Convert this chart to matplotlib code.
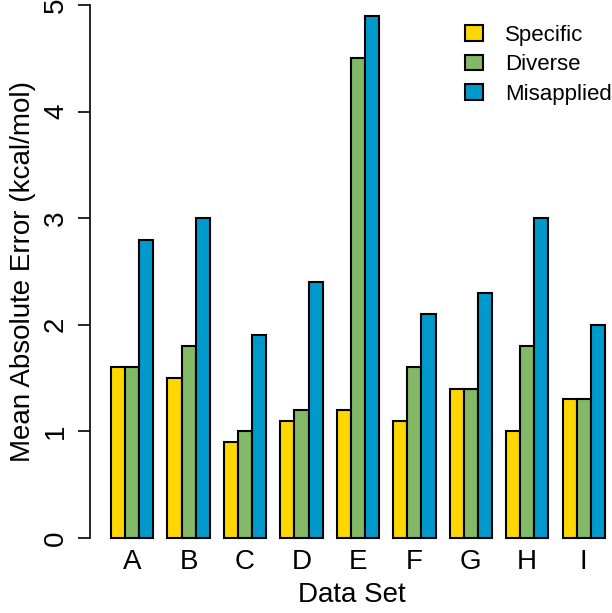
import numpy as np
import matplotlib.pyplot as plt

plt.rcParams['font.family'] = ['Liberation Sans', 'DejaVu Sans']

datasets = ['A', 'B', 'C', 'D', 'E', 'F', 'G', 'H', 'I']
specific = [1.6, 1.5, 0.9, 1.1, 1.2, 1.1, 1.4, 1.0, 1.3]
diverse = [1.6, 1.8, 1.0, 1.2, 4.5, 1.6, 1.4, 1.8, 1.3]
misapplied = [2.8, 3.0, 1.9, 2.4, 4.9, 2.1, 2.3, 3.0, 2.0]

series = [('Specific', specific, '#FFD700'),
          ('Diverse', diverse, '#82B866'),
          ('Misapplied', misapplied, '#0099CC')]

W, H = 612, 613
fig = plt.figure(figsize=(W / 100, H / 100), dpi=100)

# R barplot style: bar width 1, one unit gap between groups
unit = 14.11
x0_px = 111  # left edge of first bar
xlo = -0.4
left_px = x0_px - (1 - xlo) * unit
xhi = 1 + (W - x0_px) / unit
ax = fig.add_axes([left_px / W, (H - 538) / H, (W - left_px) / W, (538 - 5) / H])

starts = 1 + 4 * np.arange(len(datasets))
for k, (name, vals, col) in enumerate(series):
    ax.bar(starts + k, vals, width=1, align='edge', color=col,
           edgecolor='black', linewidth=1.5, label=name, clip_on=False)

ax.set_xlim(xlo, xhi)
ax.set_ylim(0, 5)

for s in ['top', 'right', 'bottom']:
    ax.spines[s].set_visible(False)
ax.spines['left'].set_position(('data', -0.5))
ax.spines['left'].set_linewidth(1.2)

ax.set_yticks([0, 1, 2, 3, 4, 5])
ax.set_yticklabels(['0', '1', '2', '3', '4', '5'], rotation=90, va='center')
ax.tick_params(axis='y', length=9, width=1.2, labelsize=20, pad=6)

ax.set_xticks(starts + 1.5)
ax.set_xticklabels(datasets)
ax.tick_params(axis='x', length=0, labelsize=20, pad=8)

ax.set_xlabel('Data Set', fontsize=20, labelpad=5)
ax.set_ylabel('Mean Absolute Error (kcal/mol)', fontsize=20, labelpad=5)

ax.legend(loc='upper left', bbox_to_anchor=(456 / W, 1 - 16 / H),
          bbox_transform=fig.transFigure, frameon=False,
          fontsize=16, handlelength=0.81, handleheight=0.72,
          handletextpad=1.0, labelspacing=0.38, borderaxespad=0.0)

fig.savefig('out.png', dpi=100)
